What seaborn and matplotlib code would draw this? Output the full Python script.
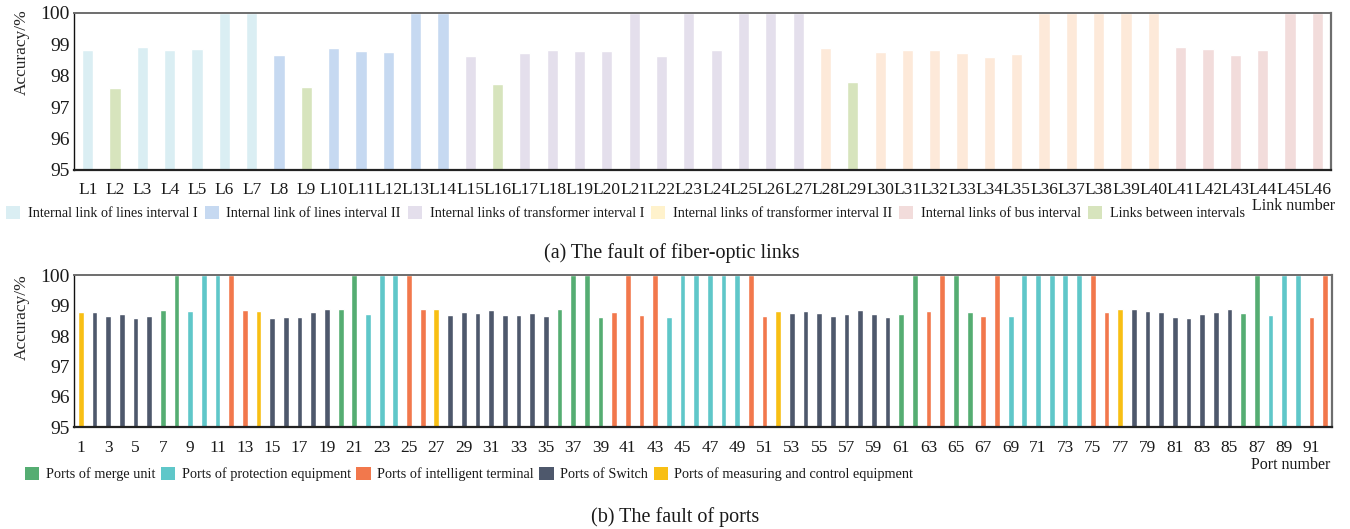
import matplotlib
matplotlib.use("Agg")
import matplotlib.pyplot as plt
import seaborn as sns
import pandas as pd
from matplotlib.patches import Patch

# ---------------- data ----------------
link_labels = [f"L{i}" for i in range(1, 47)]
link_values = [98.81, 97.61, 98.91, 98.81, 98.85, 100, 100, 98.65, 97.64, 98.88,
               98.78, 98.75, 100, 100, 98.62, 97.73, 98.72, 98.81, 98.78, 98.78,
               100, 98.62, 100, 98.81, 100, 100, 100, 98.88, 97.80, 98.75,
               98.81, 98.81, 98.72, 98.59, 98.69, 100, 100, 100, 100, 100,
               98.91, 98.85, 98.65, 98.81, 100, 100]
link_groups = (["LI"] + ["BT"] + ["LI"] * 5 + ["LII"] + ["BT"] + ["LII"] * 5 +
               ["TI"] + ["BT"] + ["TI"] * 11 + ["TII"] + ["BT"] + ["TII"] * 11 +
               ["BUS"] * 6)
link_group_names = ["LI", "LII", "TI", "TII", "BUS", "BT"]
link_legend_labels = ["Internal link of lines interval I", "Internal link of lines interval II",
                      "Internal links of transformer interval I", "Internal links of transformer interval II",
                      "Internal links of bus interval", "Links between intervals"]
link_bar_colors = {"LI": "#DAEEF3", "LII": "#C6D9F1", "TI": "#E4DFEC",
                   "TII": "#FDE9D9", "BUS": "#F2DCDB", "BT": "#D7E4BD"}
link_legend_colors = ["#DAEEF3", "#C6D9F1", "#E4DFEC", "#FFF2CC", "#F2DCDB", "#D7E4BD"]

port_labels = [str(i) for i in range(1, 93)]
port_values = [98.79, 98.79, 98.66, 98.73, 98.60, 98.66, 98.86, 100, 98.83, 100,
               100, 100, 98.86, 98.83, 98.60, 98.63, 98.63, 98.79, 98.89, 98.89,
               100, 98.73, 100, 100, 100, 98.89, 98.89, 98.70, 98.79, 98.76,
               98.86, 98.70, 98.70, 98.76, 98.66, 98.89, 100, 100, 98.63, 98.79,
               100, 98.70, 100, 98.63, 100, 100, 100, 100, 100, 100,
               98.66, 98.83, 98.76, 98.83, 98.76, 98.66, 98.73, 98.86, 98.73, 98.63,
               98.73, 100, 98.83, 100, 100, 98.79, 98.66, 100, 98.66, 100,
               100, 100, 100, 100, 100, 98.79, 98.89, 98.89, 98.83, 98.79,
               98.63, 98.60, 98.73, 98.79, 98.89, 98.76, 100, 98.70, 100, 100,
               98.63, 100]
port_groups = (["MC"] + ["SW"] * 5 + ["MU"] * 2 + ["PE"] * 3 + ["IT"] * 2 + ["MC"] +
               ["SW"] * 5 + ["MU"] * 2 + ["PE"] * 3 + ["IT"] * 2 + ["MC"] +
               ["SW"] * 8 + ["MU"] * 4 + ["IT"] * 4 + ["PE"] * 6 + ["IT"] * 2 + ["MC"] +
               ["SW"] * 8 + ["MU"] * 2 + ["IT"] * 2 + ["MU"] * 2 + ["IT"] * 2 +
               ["PE"] * 6 + ["IT"] * 2 + ["MC"] + ["SW"] * 8 + ["MU"] * 2 +
               ["PE"] * 3 + ["IT"] * 2)
port_group_names = ["MU", "PE", "IT", "SW", "MC"]
port_legend_labels = ["Ports of merge unit", "Ports of protection equipment",
                      "Ports of intelligent terminal", "Ports of Switch",
                      "Ports of measuring and control equipment"]
port_colors = {"MU": "#55AD72", "PE": "#5FC7C9", "IT": "#F2784C",
               "SW": "#4E586C", "MC": "#F8BF14"}

y_ticks = [95, 96, 97, 98, 99, 100]

# ---------------- style ----------------
sns.set_theme(style="white")
plt.rcParams["font.family"] = ["Liberation Serif", "DejaVu Serif"]
plt.rcParams["text.color"] = "#1a1a1a"

W, H = 1350, 529
fig = plt.figure(figsize=(13.5, 5.29), dpi=100)

def fx(px):
    return px / W

def fy(py):
    return 1 - py / H

ax1 = fig.add_axes([fx(74), fy(170), fx(1331 - 74), (170 - 12.7) / H])
ax2 = fig.add_axes([fx(74), fy(427.3), fx(1332 - 74), (427.3 - 275.3) / H])

df1 = pd.DataFrame({"link": link_labels, "acc": link_values, "grp": link_groups})
df2 = pd.DataFrame({"port": port_labels, "acc": port_values, "grp": port_groups})

pal1 = {lab: link_bar_colors[g] for lab, g in zip(link_labels, link_groups)}
pal2 = {lab: port_colors[g] for lab, g in zip(port_labels, port_groups)}

sns.barplot(data=df1, x="link", y="acc", hue="link", order=link_labels,
            hue_order=link_labels, palette=pal1, width=0.41, legend=False,
            ax=ax1, saturation=1)
sns.barplot(data=df2, x="port", y="acc", hue="port", order=port_labels,
            hue_order=port_labels, palette=pal2, width=0.42, legend=False,
            ax=ax2, saturation=1)

for ax, ly in ((ax1, 0.75), (ax2, 0.726)):
    ax.set_ylim(95, 100)
    ax.set_yticks(y_ticks)
    ax.set_yticklabels([str(v) for v in y_ticks])
    ax.set_xlabel("")
    ax.set_ylabel("Accuracy/%", fontsize=12.5)
    ax.yaxis.set_label_coords(-0.035, ly)
    ax.tick_params(axis="both", length=0, labelsize=12.5, colors="#1a1a1a")
    ax.tick_params(axis="y", labelsize=14, pad=3)
    ax.tick_params(axis="x", pad=9)
    ax.spines["bottom"].set_color("#222222")
    ax.spines["bottom"].set_linewidth(1.6)
    ax.spines["top"].set_color("#6e6e6e")
    ax.spines["top"].set_linewidth(1.4)
    ax.spines["left"].set_color("#111111")
    ax.spines["left"].set_linewidth(1.0)
    ax.spines["right"].set_color("#6e6e6e")
    ax.spines["right"].set_linewidth(1.6)
    for s in ax.spines.values():
        s.set_visible(True)
        s.set_zorder(5)

ax1.set_xlim(-0.5, len(link_labels) - 0.5)
ax2.set_xlim(-0.5, len(port_labels) - 0.5)
ax2.set_xticks(range(0, len(port_labels), 2))
ax2.set_xticklabels(port_labels[::2])

# legends
h1 = [Patch(facecolor=c, edgecolor="none") for c in link_legend_colors]
fig.legend(h1, link_legend_labels, loc="center left",
           bbox_to_anchor=(fx(6), fy(213)), ncol=6, frameon=False,
           fontsize=10.15, handlelength=1.0, handleheight=1.0,
           handletextpad=0.55, columnspacing=0.5, borderpad=0,
           borderaxespad=0)
h2 = [Patch(facecolor=port_colors[g], edgecolor="none") for g in port_group_names]
fig.legend(h2, port_legend_labels, loc="center left",
           bbox_to_anchor=(fx(25), fy(474)), ncol=5, frameon=False,
           fontsize=10.3, handlelength=1.0, handleheight=1.0,
           handletextpad=0.45, columnspacing=0.4, borderpad=0,
           borderaxespad=0)

fig.text(fx(1335), fy(206), "Link number", ha="right", va="center", fontsize=11.5)
fig.text(fx(1330), fy(465), "Port number", ha="right", va="center", fontsize=11.5)
fig.text(fx(672), fy(253), "(a) The fault of fiber-optic links", ha="center",
         va="center", fontsize=14.5)
fig.text(fx(675), fy(517), "(b) The fault of ports", ha="center",
         va="center", fontsize=14.5)

fig.savefig("out.png", dpi=100)
